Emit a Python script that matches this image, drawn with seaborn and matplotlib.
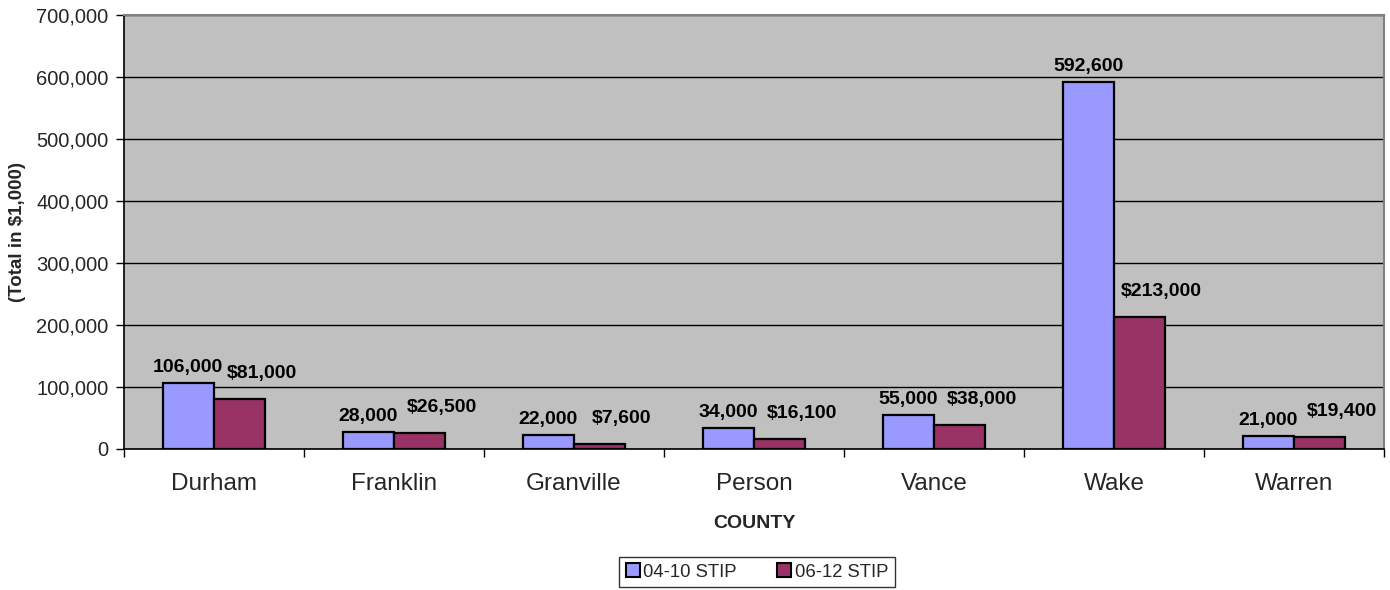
import matplotlib
matplotlib.use("Agg")
import matplotlib.pyplot as plt
import seaborn as sns
import pandas as pd
from matplotlib.ticker import FuncFormatter, FixedLocator

counties = ["Durham", "Franklin", "Granville", "Person", "Vance", "Wake", "Warren"]
stip_0410 = [106000, 28000, 22000, 34000, 55000, 592600, 21000]
stip_0612 = [81000, 26500, 7600, 16100, 38000, 213000, 19400]
series_names = ["04-10 STIP", "06-12 STIP"]
y_ticks = [0, 100000, 200000, 300000, 400000, 500000, 600000, 700000]

df = pd.DataFrame({
    "County": counties * 2,
    "Value": stip_0410 + stip_0612,
    "Series": [series_names[0]] * len(counties) + [series_names[1]] * len(counties),
})

sns.set_theme(style="white")
plt.rcParams["font.family"] = ["Liberation Sans", "DejaVu Sans"]

fig = plt.figure(figsize=(13.9, 5.9), dpi=100)
ax = fig.add_axes([124 / 1390, 1 - 449 / 590, 1260 / 1390, 434 / 590])
ax.set_facecolor("#C0C0C0")

palette = {series_names[0]: "#9999FF", series_names[1]: "#993366"}
sns.barplot(data=df, x="County", y="Value", hue="Series", palette=palette,
            width=0.57, edgecolor="black", linewidth=1.6, saturation=1,
            ax=ax, zorder=3)

ax.set_xlim(-0.5, len(counties) - 0.5)
ax.set_ylim(0, 700000)
ax.yaxis.set_major_locator(FixedLocator(y_ticks))
ax.yaxis.set_major_formatter(FuncFormatter(lambda v, p: f"{int(v):,}"))
ax.grid(axis="y", color="black", linewidth=1, zorder=0)
ax.set_axisbelow(True)

ax.tick_params(axis="y", which="major", direction="out", length=6, width=1,
               color="black", labelsize=14.5, pad=5, left=True)
ax.tick_params(axis="x", which="major", length=0, labelsize=17.5, pad=17)
ax.set_xticks([i - 0.5 for i in range(len(counties) + 1)], minor=True)
ax.tick_params(axis="x", which="minor", direction="out", length=6, width=1,
               color="black", bottom=True)

for side in ["left", "bottom"]:
    ax.spines[side].set_color("black")
    ax.spines[side].set_linewidth(1.2)
for side in ["top", "right"]:
    ax.spines[side].set_color("#808080")
    ax.spines[side].set_linewidth(1.5)

ax.set_xlabel("COUNTY", fontsize=14, fontweight="bold", labelpad=15)
ax.set_ylabel("(Total in $1,000)", fontsize=13.5, fontweight="bold")
ax.yaxis.set_label_coords(-0.078, 0.5)

# data labels
for ci, cont in enumerate(ax.containers[:2]):
    for bar, val in zip(cont, stip_0410 if ci == 0 else stip_0612):
        x = bar.get_x() + bar.get_width() / 2
        txt = f"{val:,}" if ci == 0 else f"${val:,}"
        dx, dy = (0, 7) if ci == 0 else (22, 17)
        ax.annotate(txt, (x, bar.get_height()), xytext=(dx, dy),
                    textcoords="offset pixels", ha="center", va="bottom",
                    fontsize=14, fontweight="bold", color="black", zorder=5)

ax.legend_.remove()
handles = [plt.Rectangle((0, 0), 1, 1, facecolor=palette[s], edgecolor="black", linewidth=1.5)
           for s in series_names]
leg = fig.legend(handles, series_names, loc="center", bbox_to_anchor=(757 / 1390, 1 - 572 / 590),
                 ncol=2, frameon=True, fancybox=False, fontsize=13.3, handlelength=0.75,
                 handleheight=0.75, handletextpad=0.2, columnspacing=2.2, borderpad=0.35,
                 borderaxespad=0)
leg.get_frame().set_edgecolor("black")
leg.get_frame().set_linewidth(1)

fig.savefig("out.png", dpi=100, facecolor="white")
